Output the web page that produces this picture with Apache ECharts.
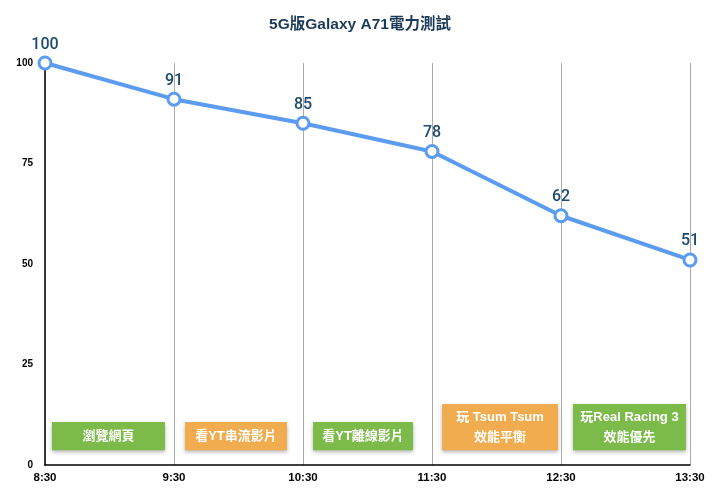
<!DOCTYPE html>
<html><head><meta charset="utf-8">
<script src="https://cdn.jsdelivr.net/npm/echarts@6/dist/echarts.min.js"></script>
<style>html,body{margin:0;padding:0;background:#fff}#c{width:720px;height:491px}</style>
</head><body><div id="c"></div>
<script>
const categories = ['8:30','9:30','10:30','11:30','12:30','13:30'];
const battery = [100, 91, 85, 78, 62, 51];
const yTicks = [0, 25, 50, 75, 100];
const activityLabels = ['瀏覽網頁', '看YT串流影片', '看YT離線影片', '玩 Tsum Tsum\n效能平衡', '玩Real Racing 3\n效能優先'];
const activityStart = [0, 1, 2, 3, 4];
const activityKind = ['green', 'orange', 'green', 'orange', 'green'];

// layout of annotation boxes (fractions of a category step, values on y-axis)
const boxLayout = [
  {l:0.054, r:0.93, top:10.7, bottom:3.7},
  {l:0.085, r:0.876, top:10.7, bottom:3.7},
  {l:0.078, r:0.853, top:10.7, bottom:3.7},
  {l:0.078, r:0.977, top:15.2, bottom:3.7},
  {l:0.093, r:0.969, top:15.2, bottom:3.7}
];
const kindColor = {green:'#7cba4a', orange:'#f2ac50'};
const FONT = '"Liberation Sans", "Noto Sans CJK TC", sans-serif';

const chart = echarts.init(document.getElementById('c'));
chart.setOption({
  animation: false,
  title: {text: '5G版Galaxy A71電力測試', left: 'center', top: 12,
    textStyle: {fontFamily: FONT, fontSize: 15.5, fontWeight: 'bold', color: '#1b3a57'}},
  grid: {left: 45, right: 30, top: 63, bottom: 26},
  xAxis: {type: 'category', data: categories, boundaryGap: false,
    axisLine: {lineStyle: {color: '#000', width: 1.5}},
    axisTick: {show: false},
    axisLabel: {fontFamily: FONT, fontSize: 11.5, fontWeight: 'bold', color: '#000', margin: 7},
    splitLine: {show: true, lineStyle: {color: '#aaaaaa', width: 1}}},
  yAxis: {type: 'value', min: 0, max: 100, interval: 25,
    axisLine: {show: true, lineStyle: {color: '#000', width: 1.5}},
    axisTick: {show: false},
    splitLine: {show: false},
    axisLabel: {fontFamily: FONT, fontSize: 10, fontWeight: 'bold', color: '#000', margin: 12,
      formatter: v => yTicks.includes(v) ? String(v) : ''}},
  series: [
    {type: 'custom', coordinateSystem: 'cartesian2d', z: 1,
     data: activityLabels.map((t, i) => [activityStart[i], t, activityKind[i], i]),
     renderItem: function (params, api) {
       const i = api.value(3);
       const lay = boxLayout[i];
       const idx = api.value(0);
       const p0 = api.coord([idx, lay.top]);
       const p1 = api.coord([idx, lay.bottom]);
       const step = api.size([1, 0])[0];
       const x0 = p0[0] + lay.l * step, x1 = p0[0] + lay.r * step;
       const label = activityLabels[i];
       const color = kindColor[activityKind[i]];
       return {type: 'group', children: [
         {type: 'rect', shape: {x: x0, y: p0[1], width: x1 - x0, height: p1[1] - p0[1]},
          style: {fill: color, shadowBlur: 4, shadowOffsetY: 2, shadowColor: 'rgba(0,0,0,0.3)'}},
         {type: 'text', style: {text: label, x: (x0 + x1) / 2, y: (p0[1] + p1[1]) / 2,
           align: 'center', verticalAlign: 'middle', fill: '#fff',
           font: 'bold 13px ' + FONT, lineHeight: 20}}
       ]};
     }},
    {type: 'line', data: battery, z: 3,
     lineStyle: {color: '#5b9cf0', width: 4},
     symbol: 'circle', symbolSize: 12,
     itemStyle: {color: '#fff', borderColor: '#5b9cf0', borderWidth: 3},
     label: {show: true, position: 'top', distance: 3, fontFamily: 'Roboto, "Liberation Sans", sans-serif',
       fontSize: 16, fontWeight: 500, color: '#1d4a6e'}}
  ]
});
</script></body></html>
